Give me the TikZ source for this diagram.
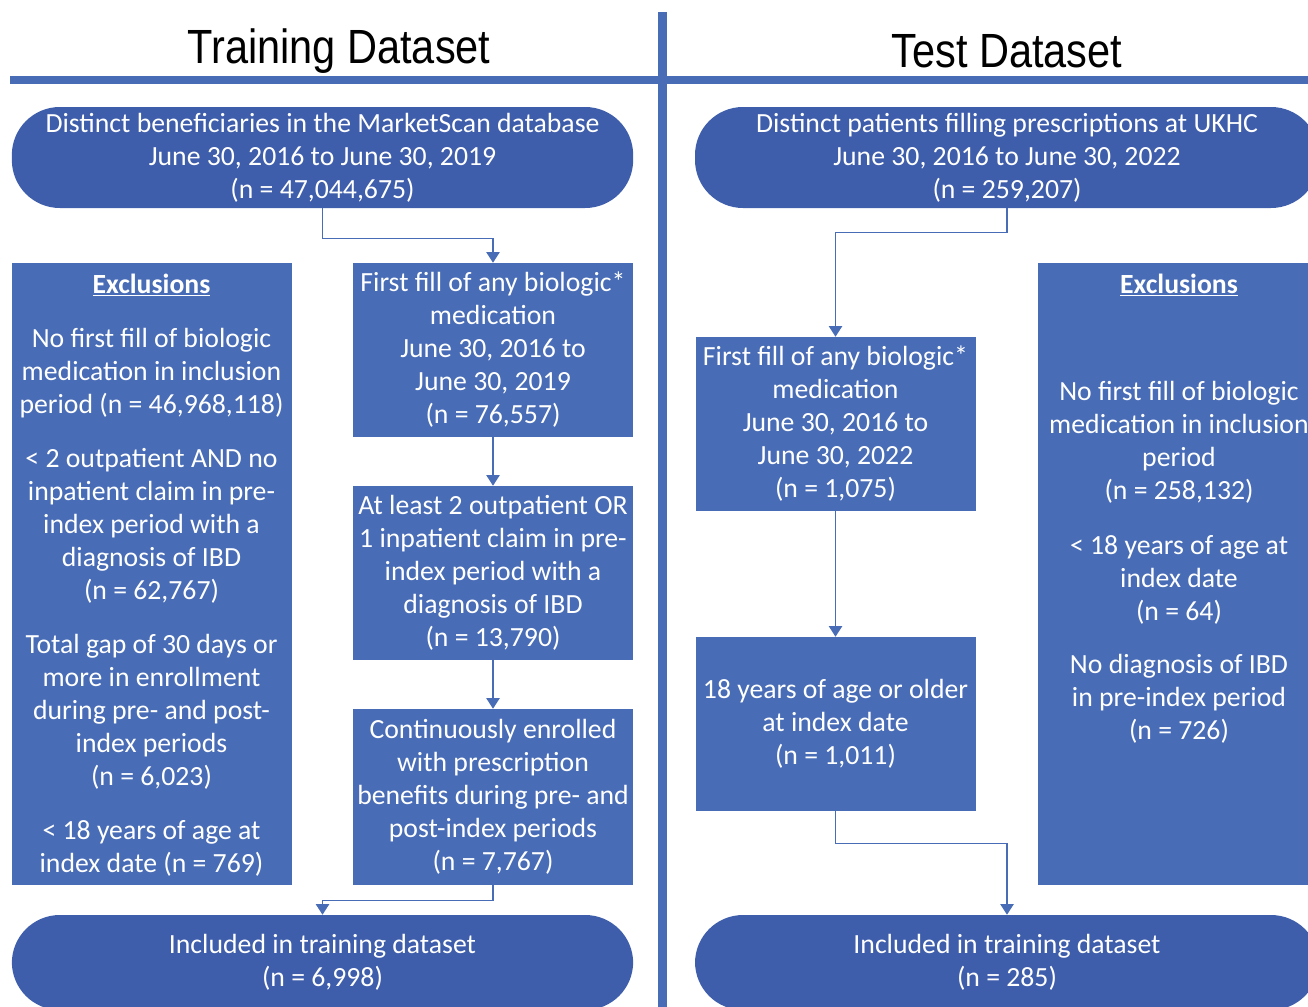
\documentclass[tikz,border=0pt]{standalone}
\usepackage{fontspec}
\setmainfont{Carlito}
\newfontfamily\headfont{Liberation Sans}
\usepackage{xcolor}
\usepackage{tikz}
\usetikzlibrary{shapes,arrows,positioning,calc,arrows.meta}
\definecolor{flowblue}{RGB}{72,108,182}
\definecolor{ovalblue}{RGB}{62,93,170}
\newcommand{\headtext}[1]{\scalebox{0.865}[1]{#1}}

\begin{document}
\begin{tikzpicture}[x=0.75pt,y=-0.75pt,
    flowbox/.style={draw=none,fill=flowblue,text=white,align=center,inner sep=0pt,
        font=\fontsize{20.8}{24.75}\selectfont},
    flowtext/.style={flowbox,fill=none,anchor=north},
    ovalbox/.style={flowbox,fill=ovalblue,rounded corners=36pt,minimum width=466pt,minimum height=75.75pt},
    stepbox/.style={flowbox,minimum width=210pt,minimum height=130.5pt},
    exclbox/.style={flowbox,minimum width=210pt,minimum height=466.5pt},
    flowarrow/.style={draw=flowblue,line width=1.1pt,-{Triangle[width=10pt,length=8pt]}},
    heading/.style={font=\headfont\fontsize{36}{40}\selectfont}]
    \useasboundingbox (0,0) rectangle (1308,1006);
    \clip (0,0) rectangle (1308,1006);

    \node[heading] (trainhead) at (339,51) {\headtext{Training Dataset}};
    \node[heading] (testhead) at (1007,51) {\headtext{Test Dataset}};
    \draw[flowblue,line width=6.5pt] (10,80) -- (1308,80);
    \draw[flowblue,line width=6.75pt] (662,12) -- (662,1010);

    % training side
    \node[ovalbox] (ovalL) at (322.5,157.5) {Distinct beneficiaries in the MarketScan database\\ June 30, 2016 to June 30, 2019\\ (n = 47,044,675)};
    \node[exclbox] (exclL) at (151.5,574) {};
    \node[flowtext] (exclLtext) at ($(exclL.north)+(0,11)$) {\textbf{\underline{Exclusions}}\\[15.75pt]
        No first fill of biologic\\ medication in inclusion\\ period (n = 46,968,118)\\[15.75pt]
        < 2 outpatient AND no\\ inpatient claim in pre-\\ index period with a\\ diagnosis of IBD\\ (n = 62,767)\\[15.75pt]
        Total gap of 30 days or\\ more in enrollment\\ during pre- and post-\\ index periods\\ (n = 6,023)\\[15.75pt]
        < 18 years of age at\\ index date (n = 769)};
    \node[stepbox] (fill1) at (493,350) {First fill of any biologic*\\ medication\\ June 30, 2016 to\\ June 30, 2019\\ (n = 76,557)};
    \node[stepbox] (incl2) at (493,573) {At least 2 outpatient OR\\ 1 inpatient claim in pre-\\ index period with a\\ diagnosis of IBD\\ (n = 13,790)};
    \node[stepbox,minimum height=132pt] (enrol3) at (493,797) {Continuously enrolled\\ with prescription\\ benefits during pre- and\\ post-index periods\\ (n = 7,767)};
    \node[ovalbox,minimum height=71.25pt] (inclL) at (322.5,962.5) {Included in training dataset\\ (n = 6,998)};

    \draw[flowarrow] (ovalL.south) -- ++(0,30) -| (fill1.north);
    \draw[flowarrow] (fill1.south) -- (incl2.north);
    \draw[flowarrow] (incl2.south) -- (enrol3.north);
    \draw[flowarrow] (enrol3.south) -- ++(0,15) -| (inclL.north);

    % test side
    \node[ovalbox,minimum width=468pt] (ovalR) at (1007,157.5) {Distinct patients filling prescriptions at UKHC\\ June 30, 2016 to June 30, 2022\\ (n = 259,207)};
    \node[stepbox] (firstR) at (835.5,424) {First fill of any biologic*\\ medication\\ June 30, 2016 to\\ June 30, 2022\\ (n = 1,075)};
    \node[stepbox] (ageR) at (835.5,724) {18 years of age or older\\ at index date\\ (n = 1,011)};
    \node[exclbox,minimum width=211.5pt] (exclR) at (1179,574) {};
    \node[flowtext] (exclRtext) at ($(exclR.north)+(0,11)$) {\textbf{\underline{Exclusions}}\\[55.5pt]
        No first fill of biologic\\ medication in inclusion\\ period\\ (n = 258,132)\\[16.5pt]
        < 18 years of age at\\ index date\\ (n = 64)\\[15pt]
        No diagnosis of IBD\\ in pre-index period\\ (n = 726)};
    \node[ovalbox,minimum width=468pt,minimum height=71.25pt] (inclR) at (1007,962.5) {Included in training dataset\\ (n = 285)};

    \draw[flowarrow] (ovalR.south) -- ++(0,24) -| (firstR.north);
    \draw[flowarrow] (firstR.south) -- (ageR.north);
    \draw[flowarrow] (ageR.south) -- ++(0,32) -| (inclR.north);
\end{tikzpicture}
\end{document}
